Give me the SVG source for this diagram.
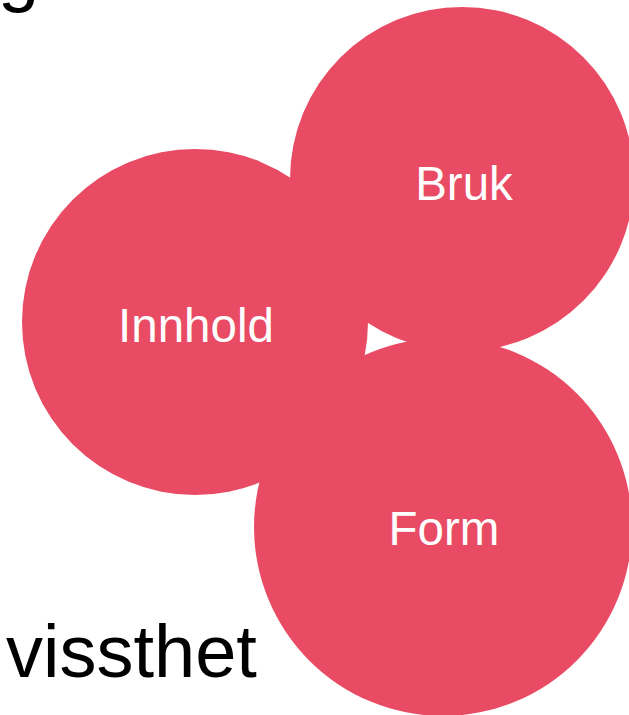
<svg xmlns="http://www.w3.org/2000/svg" width="629" height="715" viewBox="0 0 629 715">
<style>
.c{fill:#e84b63}
.l{font-family:"Liberation Sans",Arial,sans-serif;font-size:47.5px;fill:#ffffff;text-anchor:middle}
.t{font-family:"Liberation Sans",Arial,sans-serif;font-size:74px;fill:#000000}
</style>
<rect width="629" height="715" fill="#ffffff"/>
<text class="t" x="-2" y="-2">g</text>
<g id="bruk"><circle class="c" cx="462" cy="179" r="172"/><text class="l" x="464" y="200">Bruk</text></g>
<g id="innhold"><circle class="c" cx="195" cy="322" r="173"/><text class="l" x="196" y="342">Innhold</text></g>
<g id="form"><circle class="c" cx="443" cy="527" r="189"/><text class="l" x="444" y="545">Form</text></g>
<g id="connectors"><polygon points="369,327 367,352 397,342" fill="#ffffff"/></g>
<text class="t" x="-22" y="677">-</text>
<text class="t" x="6" y="677">vissthet</text>
</svg>
